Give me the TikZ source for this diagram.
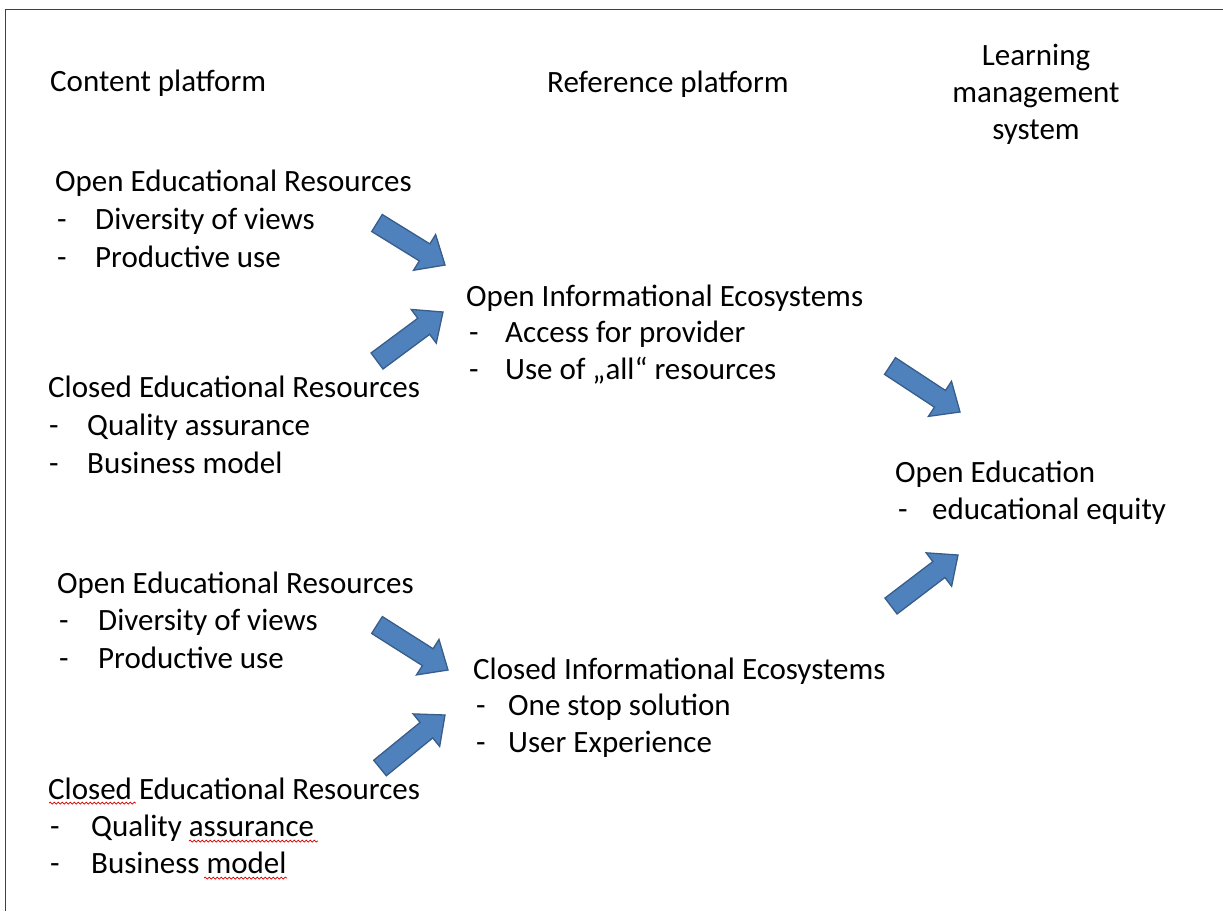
\documentclass[tikz,border=0pt]{standalone}
\usepackage{fontspec}
\setmainfont{Carlito}
\usetikzlibrary{calc,decorations.pathmorphing}
\definecolor{arrowfill}{HTML}{4F81BD}
\definecolor{arrowline}{HTML}{385D8A}
\definecolor{framegray}{HTML}{404040}
\tikzset{
  txt/.style={inner sep=0pt, anchor=base west, font=\fontsize{31}{38}\selectfont},
  ctxt/.style={inner sep=0pt, anchor=base, font=\fontsize{31}{38}\selectfont},
  barrowstyle/.style={fill=arrowfill, draw=arrowline, line width=1.3pt, line join=miter},
  spellwave/.style={draw=red!85!black, line width=0.7pt, decorate,
    decoration={snake, segment length=4pt, amplitude=1pt}},
}
\newcommand\blockarrow[2]{%
  \coordinate (#1neck) at ($(#2)!24pt!(#1)$);
  \filldraw[barrowstyle]
    ($(#1)!10pt!90:(#2)$) -- ($(#1neck)!10pt!-90:(#1)$) -- ($(#1neck)!21pt!-90:(#1)$)
    -- (#2) -- ($(#1neck)!21pt!90:(#1)$) -- ($(#1neck)!10pt!90:(#1)$)
    -- ($(#1)!10pt!-90:(#2)$) -- cycle;}
\begin{document}
\begin{tikzpicture}[x=1pt,y=-1pt]
\useasboundingbox (0,0) rectangle (1223,911);
\fill[white] (0,0) rectangle (1223,911);
% frame
\draw[framegray, line width=1.5pt] (5.5,911) -- (5.5,9.5) -- (1223,9.5);

% column headers
\node[txt] (hcontent) at (50,91) {Content platform};
\node[txt] (hreference) at (547,92) {Reference platform};
\node[ctxt] (hlms1) at (1036,65) {Learning};
\node[ctxt] (hlms2) at (1036,102) {management};
\node[ctxt] (hlms3) at (1036,139) {system};

% Open Educational Resources (top)
\node[txt] (oerA) at (55,191) {Open Educational Resources};
\node[txt] (oerAd1) at (57,229) {-};
\node[txt] (oerA1) at (95,229) {Diversity of views};
\node[txt] (oerAd2) at (57,267) {-};
\node[txt] (oerA2) at (95,267) {Productive use};

% Closed Educational Resources (top)
\node[txt] (cerA) at (48,397) {Closed Educational Resources};
\node[txt] (cerAd1) at (49,435) {-};
\node[txt] (cerA1) at (87,435) {Quality assurance};
\node[txt] (cerAd2) at (49,473) {-};
\node[txt] (cerA2) at (87,473) {Business model};

% Open Educational Resources (bottom)
\node[txt] (oerB) at (57,593) {Open Educational Resources};
\node[txt] (oerBd1) at (59,630) {-};
\node[txt] (oerB1) at (98,630) {Diversity of views};
\node[txt] (oerBd2) at (59,668) {-};
\node[txt] (oerB2) at (98,668) {Productive use};

% Closed Educational Resources (bottom)
\node[txt] (cerB) at (48,799) {Closed Educational Resources};
\node[txt] (cerBd1) at (50,836) {-};
\node[txt] (cerB1) at (91,836) {Quality assurance};
\node[txt] (cerBd2) at (50,873) {-};
\node[txt] (cerB2) at (91,873) {Business model};

% spell-check underlines
\coordinate (w1a) at (49,803);  \coordinate (w1b) at (136,803);
\coordinate (w2a) at (189,841); \coordinate (w2b) at (318,841);
\coordinate (w3a) at (204,878); \coordinate (w3b) at (287,878);
\draw[spellwave] (w1a) -- (w1b);
\draw[spellwave] (w2a) -- (w2b);
\draw[spellwave] (w3a) -- (w3b);

% Open Informational Ecosystems
\node[txt] (oie) at (466,306) {Open Informational Ecosystems};
\node[txt] (oied1) at (469,342) {-};
\node[txt] (oie1) at (505,342) {Access for provider};
\node[txt] (oied2) at (469,379) {-};
\node[txt] (oie2) at (505,379) {Use of „all“ resources};

% Closed Informational Ecosystems
\node[txt] (cie) at (473,679) {Closed Informational Ecosystems};
\node[txt] (cied1) at (476,715) {-};
\node[txt] (cie1) at (508,715) {One stop solution};
\node[txt] (cied2) at (476,752) {-};
\node[txt] (cie2) at (508,752) {User Experience};

% Open Education
\node[txt] (oe) at (895,482) {Open Education};
\node[txt] (oed1) at (898,519) {-};
\node[txt] (oe1) at (932,519) {educational equity};

% block arrows: tail and tip coordinates
\coordinate (a1t) at (377,223); \coordinate (a1h) at (445,265);
\coordinate (a2t) at (377,361); \coordinate (a2h) at (443,312);
\coordinate (a3t) at (890,366); \coordinate (a3h) at (960,412);
\coordinate (a4t) at (891,606); \coordinate (a4h) at (958,555);
\coordinate (a5t) at (377,625); \coordinate (a5h) at (448,670);
\coordinate (a6t) at (380,768); \coordinate (a6h) at (445,715);
\blockarrow{a1t}{a1h}
\blockarrow{a2t}{a2h}
\blockarrow{a3t}{a3h}
\blockarrow{a4t}{a4h}
\blockarrow{a5t}{a5h}
\blockarrow{a6t}{a6h}
\end{tikzpicture}
\end{document}
